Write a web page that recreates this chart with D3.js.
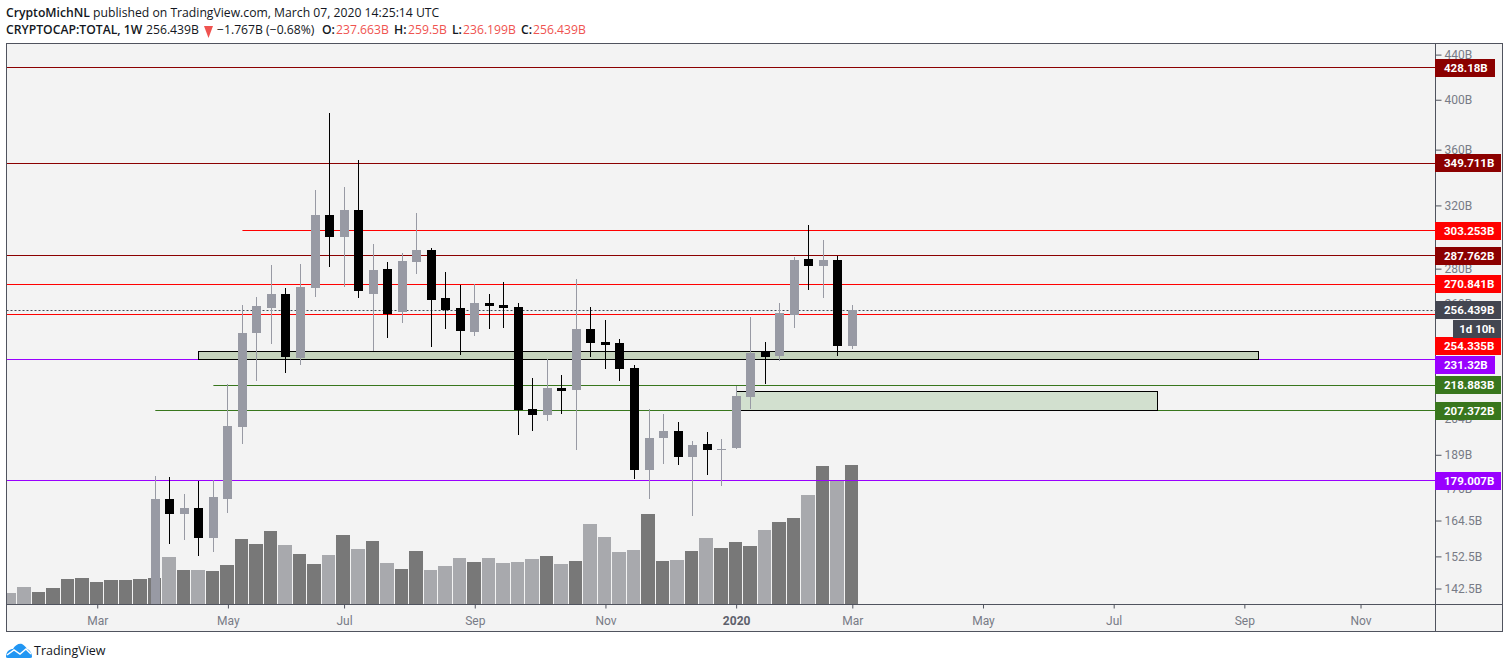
<!DOCTYPE html>
<html>
<head>
<meta charset="utf-8">
<style>
  html, body { margin: 0; padding: 0; background: #fff; }
  svg { display: block; font-family: "Open Sans", sans-serif; }
  .axis text { fill: #787b86; font-size: 12px; font-family: Roboto, sans-serif; }
  .axis line, .axis path { stroke: #50535e; }
</style>
</head>
<body>
<div id="viz-container"></div>
<script src="https://cdn.jsdelivr.net/npm/d3@7"></script>
<script>
// weekly candles, Apr 1 2019 .. Mar 2 2020, prices in billions
const opens = [136.2,172.15,166.78,168.91,158.55,172.15,200.4,244.41,257.67,265.38,231.84,268.78,313.57,299.33,316.91,265.38,279.78,255.5,283.95,291.24,263.17,257.67,244.93,260.4,259.3,258.2,208.18,205.55,217.63,216.7,246.49,239.8,239.3,227,183.02,195.8,198.73,188.1,193.35,190.91,191.72,213.53,234.8,232.82,253.9,285.75,281.58,285.15,237.663];
const highs = [180.71,180.33,173.97,178.82,179.2,219.46,259.3,263.72,282.14,268.78,282.74,330.58,388.9,332.68,352.2,294.94,283.95,289.4,314.9,292.47,278,270.47,271.05,265.38,272.2,260.4,222.26,231.36,223.69,273.94,258.2,251.22,241.34,228.44,208.18,205.99,202.53,194.57,198.31,195.4,218.55,252.8,239.8,260.4,286.96,307,297.45,287.57,259.5];
const lows = [135,156.55,157.88,152.62,153.93,167.13,193.35,220.86,238.8,224.62,228.4,263.72,280.97,269.34,263.17,235.3,241.85,249.63,276.83,237.29,246.5,233.3,242.9,246.5,247,197.05,198.73,202.97,205.99,190.91,232.33,226.53,220.86,179.58,172.15,185.33,184.96,166.1,181.1,176.95,191.3,208.18,219.45,230.38,247,267.65,263.17,232.82,236.199];
const closes = [172.15,166.78,168.91,158.55,172.88,200.84,244.41,258.76,265.38,232.33,269.34,313.57,299.33,316.91,267.08,279.19,254.42,284.55,291.24,262.06,256.58,245.45,260.4,258.76,257.67,207.74,205.55,217.63,216.24,246.49,239.3,238.3,226.53,183.02,195.8,198.73,188.1,192.94,190.91,191.3,214,234.3,232.33,254.96,285.15,281.58,285.15,237.66,256.439];

// volume starts 10 weeks before the candles do
const volumes = [55,85,60,80,125,130,110,120,120,125,130,235,170,170,165,195,325,300,365,295,250,200,245,345,275,315,205,175,265,170,190,230,210,230,205,210,225,240,200,215,400,335,260,270,450,215,220,265,330,280,310,290,370,410,430,545,690,615,695];
const volumeLight = [1,1,0,0,0,0,0,0,0,0,0,1,0,1,0,0,0,0,0,1,0,0,1,0,1,0,1,0,0,1,1,1,0,1,1,1,1,0,1,0,1,1,1,1,0,0,1,0,1,0,0,0,1,0,0,1,0,1,0];

const priceTicks = [440,400,360,320,300,280,260,240,220,204,189,176,164.5,152.5,142.5];
const monthTicks = ["2019-03-04","2019-05-06","2019-07-01","2019-09-02","2019-11-04","2020-01-06","2020-03-02","2020-05-04","2020-07-06","2020-09-07","2020-11-02"];
const monthLabels = ["Mar","May","Jul","Sep","Nov","2020","Mar","May","Jul","Sep","Nov"];

const levelValues = [428.18,349.711,303.253,287.762,270.841,254.335,231.32,218.883,207.372,179.007];
const levelLabels = ["428.18B","349.711B","303.253B","287.762B","270.841B","254.335B","231.32B","218.883B","207.372B","179.007B"];
const levelStarts = [null,null,"2019-05-13",null,null,null,null,"2019-04-29","2019-04-01",null];

const lastPrice = 256.439;
const zoneTops = [235.3,215.8];
const zoneBottoms = [231.32,207.3];
const zoneStarts = ["2019-04-22","2020-01-06"];
const zoneEnds = ["2020-09-14","2020-07-27"];

const width = 1508, height = 669;
const pane = {left: 6.5, right: 1435.5, top: 43.5, axisY: 604.5, bottom: 631.5, outer: 1502.5};

const parse = d3.utcParse("%Y-%m-%d");
const weeks = d3.utcMonday.range(parse("2019-01-21"), parse("2020-03-03"));
const candleWeeks = weeks.slice(10);

const x = d3.scaleUtc().domain([parse("2019-01-21"), parse("2020-03-02")]).range([10.1, 852.3]);
const y = d3.scaleLog().domain([179.007, 428.18]).range([480.5, 67.5]);
const volY = d3.scaleLinear().domain([0, 695]).range([604, 465]);

const levelColors = ["#8b0000","#8b0000","#ff0000","#8b0000","#ff0000","#ff0000","#9900ff","#38761d","#38761d","#9900ff"];
// tags that would overlap get pushed down, same as on the real price axis
const tagNudge = {254.335: 32, 231.32: 6};

const viz = d3.select("#viz-container").append("svg")
  .attr("id", "viz").attr("width", width).attr("height", height);

viz.append("defs").append("clipPath").attr("id", "pane-clip")
  .append("rect")
    .attr("x", pane.left).attr("y", pane.top)
    .attr("width", pane.right - pane.left).attr("height", pane.axisY - pane.top);

viz.append("rect")
  .attr("x", pane.left).attr("y", pane.top)
  .attr("width", pane.outer - pane.left).attr("height", pane.bottom - pane.top)
  .attr("fill", "#f3f3f3");

const plot = viz.append("g").attr("clip-path", "url(#pane-clip)");

// volume, each bar stops 1px short of the next one
function volLeft(d){ return Math.round(x(d) - 7.6); }
function volWidth(d){ return volLeft(d3.utcMonday.offset(d, 1)) - volLeft(d) - 1; }

plot.selectAll(".vol").data(volumes).enter()
  .append("rect")
    .attr("class", "vol")
    .attr("x", (d, i) => volLeft(weeks[i]))
    .attr("width", (d, i) => volWidth(weeks[i]))
    .attr("y", d => volY(d))
    .attr("height", d => 604 - volY(d))
    .attr("fill", (d, i) => volumeLight[i] ? "#a8a9ad" : "#787878")
    .attr("shape-rendering", "crispEdges");

// horizontal levels
plot.selectAll(".level").data(levelValues).enter()
  .append("line")
    .attr("class", "level")
    .attr("x1", (d, i) => levelStarts[i] ? x(parse(levelStarts[i])) : pane.left)
    .attr("x2", pane.right)
    .attr("y1", d => Math.floor(y(d)) + 0.5)
    .attr("y2", d => Math.floor(y(d)) + 0.5)
    .attr("stroke", (d, i) => levelColors[i]);

plot.append("line")
  .attr("x1", pane.left).attr("x2", pane.right)
  .attr("y1", Math.floor(y(lastPrice)) + 0.5).attr("y2", Math.floor(y(lastPrice)) + 0.5)
  .attr("stroke", "#434651").attr("stroke-dasharray", "2 2");

// green zones
plot.selectAll(".zone").data(zoneTops).enter()
  .append("rect")
    .attr("class", "zone")
    .attr("x", (d, i) => Math.floor(x(parse(zoneStarts[i]))) + 0.5)
    .attr("width", (d, i) => Math.round(x(parse(zoneEnds[i])) - x(parse(zoneStarts[i]))))
    .attr("y", d => Math.floor(y(d)) + 0.5)
    .attr("height", (d, i) => Math.round(y(zoneBottoms[i]) - y(d)))
    .attr("fill", (d, i) => i == 0 ? "#c5d3bd" : "#d2e0cf")
    .attr("stroke", "#000");

// candles
function candleColor(d, i){
  return closes[i] >= opens[i] ? "#989aa4" : "#000";
}

plot.selectAll(".wick").data(candleWeeks).enter()
  .append("rect")
    .attr("class", "wick")
    .attr("x", d => Math.floor(x(d)))
    .attr("width", 1)
    .attr("y", (d, i) => y(highs[i]))
    .attr("height", (d, i) => y(lows[i]) - y(highs[i]))
    .attr("fill", candleColor)
    .attr("shape-rendering", "crispEdges");

plot.selectAll(".body").data(candleWeeks).enter()
  .append("rect")
    .attr("class", "body")
    .attr("x", d => Math.floor(x(d)) - 4)
    .attr("width", 9)
    .attr("y", (d, i) => y(Math.max(opens[i], closes[i])))
    .attr("height", (d, i) => Math.max(1, Math.abs(y(opens[i]) - y(closes[i]))))
    .attr("fill", candleColor)
    .attr("shape-rendering", "crispEdges");

// axes
const priceAxis = d3.axisRight(y).tickValues(priceTicks).tickFormat(d => d + "B").tickSize(6).tickPadding(3);
viz.append("g")
  .attr("class", "axis")
  .attr("transform", "translate(" + pane.right + ",0)")
  .call(priceAxis)
  .call(g => g.select(".domain").remove());

const timeAxis = d3.axisBottom(x)
  .tickValues(monthTicks.map(parse))
  .tickFormat((d, i) => monthLabels[i])
  .tickSize(4).tickPadding(8);
viz.append("g")
  .attr("class", "axis")
  .attr("transform", "translate(0," + pane.axisY + ")")
  .call(timeAxis)
  .call(g => g.select(".domain").remove())
  .call(g => g.selectAll("text").filter(d => d.getUTCFullYear() == 2020 && d.getUTCMonth() == 0)
    .style("font-weight", "bold").style("fill", "#5d606b"));

// frame
viz.append("rect")
  .attr("x", pane.left).attr("y", pane.top)
  .attr("width", pane.outer - pane.left).attr("height", pane.bottom - pane.top)
  .attr("fill", "none").attr("stroke", "#50535e");
viz.append("line")
  .attr("x1", pane.right).attr("x2", pane.right)
  .attr("y1", pane.top).attr("y2", pane.bottom)
  .attr("stroke", "#50535e");
viz.append("line")
  .attr("x1", pane.left).attr("x2", pane.outer)
  .attr("y1", pane.axisY).attr("y2", pane.axisY)
  .attr("stroke", "#50535e");

// price tags
function addTag(value, label, color, tagWidth, nudge){
  const mid = Math.round(y(value)) + nudge;
  viz.append("rect")
    .attr("x", 1435).attr("y", mid - 9)
    .attr("width", tagWidth).attr("height", 18)
    .attr("fill", color);
  viz.append("text")
    .attr("x", 1444).attr("y", mid + 4)
    .attr("fill", "#fff")
    .style("font-family", "Roboto, sans-serif")
    .style("font-size", "11.5px").style("font-weight", 700)
    .text(label);
}

levelValues.forEach((v, i) => {
  const tagWidth = levelLabels[i].length == 7 ? 60 : 66;
  addTag(v, levelLabels[i], levelColors[i], tagWidth, tagNudge[v] || 0);
});
addTag(lastPrice, "256.439B", "#434651", 66, 0);

viz.append("rect")
  .attr("x", 1453).attr("y", 320)
  .attr("width", 48).attr("height", 18)
  .attr("fill", "#434651");
viz.append("text")
  .attr("x", 1477).attr("y", 333)
  .attr("text-anchor", "middle")
  .attr("fill", "#fff")
  .style("font-family", "Roboto, sans-serif")
  .style("font-size", "11.5px").style("font-weight", 700)
  .text("1d 10h");

// header lines
const line1 = viz.append("text").attr("x", 6).attr("y", 17)
  .style("font-size", "12.2px").attr("fill", "#131722");
line1.append("tspan").style("font-weight", 600).text("CryptoMichNL");
line1.append("tspan").text(" published on TradingView.com, March 07, 2020 14:25:14 UTC");

const red = "#ef5350";
function headerBit(xPos, str, color, weight){
  viz.append("text").attr("x", xPos).attr("y", 34)
    .style("font-size", "12.2px").style("font-weight", weight)
    .attr("fill", color).text(str);
}
headerBit(6, "CRYPTOCAP:TOTAL, 1W", "#131722", 600);
headerBit(146, "256.439B", "#131722", 400);
viz.append("path").attr("d", "M204 26 L213 26 L208.5 38 Z").attr("fill", red);
headerBit(217, "−1.767B (−0.68%)", "#131722", 400);
headerBit(322, "O:", "#131722", 600);
headerBit(336, "237.663B", red, 400);
headerBit(394, "H:", "#131722", 600);
headerBit(408, "259.5B", red, 400);
headerBit(452, "L:", "#131722", 600);
headerBit(463, "236.199B", red, 400);
headerBit(521, "C:", "#131722", 600);
headerBit(533, "256.439B", red, 400);

// logo
viz.append("path")
  .attr("d", "M6 657 C6 651 10 649 13 649 C15 645 19 643 22 644 C24 645 26 647 27 649 C30 650 32 653 32 657 Q32 658 30 658 L8 658 Q6 658 6 657 Z")
  .attr("fill", "#2196f3");
viz.append("path")
  .attr("d", "M7 655 L14 650 L20 654 L26 649 L31 654")
  .attr("fill", "none").attr("stroke", "#fff").attr("stroke-width", 1.5);
viz.append("text")
  .attr("x", 34).attr("y", 655)
  .style("font-size", "12.5px").attr("fill", "#131722")
  .text("TradingView");
</script>
</body>
</html>
